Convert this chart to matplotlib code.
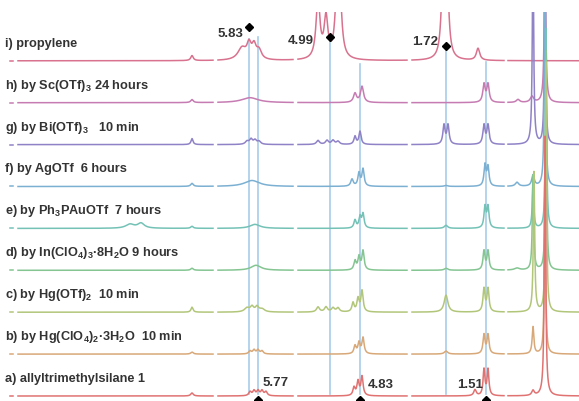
import numpy as np
import matplotlib
matplotlib.use("Agg")
import matplotlib.pyplot as plt

plt.rcParams['font.family'] = ['Liberation Sans', 'DejaVu Sans']
plt.rcParams['mathtext.fontset'] = 'custom'
plt.rcParams['mathtext.rm'] = 'Liberation Sans:bold'
plt.rcParams['mathtext.default'] = 'rm'

# spectrum labels, bottom (a) to top (i)
labels = [
    'a) allyltrimethylsilane 1',
    'b) by Hg(ClO$_4$)$_2$·3H$_2$O  10 min',
    'c) by Hg(OTf)$_2$  10 min',
    'd) by In(ClO$_4$)$_3$·8H$_2$O 9 hours',
    'e) by Ph$_3$PAuOTf  7 hours',
    'f) by AgOTf  6 hours',
    'g) by Bi(OTf)$_3$   10 min',
    'h) by Sc(OTf)$_3$ 24 hours',
    'i) propylene',
]

# peaks of each spectrum: (position, height, half width)
peaks_a = [(192, 3, 1.5), (250, 4, 1.5), (254, 5, 1.5), (258, 5, 1.5), (262, 5, 1.5),
           (266, 4, 1.5), (354, 8, 1.3), (358, 14, 1.3), (362, 19, 1.3),
           (475, 6, 1.5), (484, 26, 1.1), (488, 26, 1.1), (533, 5, 1.5), (545, 260, 0.8)]
peaks_b = [(192, 2, 1.5), (250, 3, 1.5), (254, 4, 1.5), (258, 4, 1.5), (262, 3, 1.5),
           (355, 8, 1.3), (359, 11, 1.3), (363, 16, 1.3), (446, 3, 2),
           (484, 19, 1.2), (488, 19, 1.2), (533, 27, 1.0), (545, 200, 0.7)]
peaks_c = [(192, 5, 1.2), (247, 4, 3), (252, 5, 2), (257, 5, 2), (262, 3, 3),
           (318, 5, 1.8), (326, 5, 1.8), (333, 4, 1.8), (338, 4, 1.8),
           (353, 9, 1.3), (358, 13, 1.3), (362, 21, 1.3), (446, 17, 2.2),
           (484, 23, 1.2), (488, 23, 1.2), (534, 140, 0.8), (546, 250, 0.7)]
peaks_d = [(192, 2, 1.5), (256, 5, 6), (355, 9, 1.3), (359, 13, 1.3), (363, 19, 1.3),
           (446, 2, 2), (484, 19, 1.2), (488, 19, 1.2), (517, 2, 3),
           (533, 95, 0.8), (546, 220, 0.7)]
peaks_e = [(130, 4, 5), (141, 5, 4), (192, 2, 1.5), (255, 4, 6),
           (355, 8, 1.3), (360, 11, 1.3), (363, 14, 1.3), (446, 3, 2),
           (485, 21, 1.2), (488, 21, 1.2), (533, 50, 0.8), (546, 200, 0.7)]
peaks_f = [(192, 3, 1.5), (252, 6, 9), (352, 7, 1.5), (359, 13, 1.3), (363, 17, 1.3),
           (446, 1, 2), (485, 21, 1.2), (488, 19, 1.2), (517, 4, 2),
           (533, 11, 1.5), (545, 250, 0.7)]
peaks_g = [(192, 6, 1.2), (247, 3, 2), (251, 5, 1.8), (255, 4, 1.8), (259, 3, 2),
           (318, 4, 1.8), (327, 4, 1.8), (333, 4, 1.8), (338, 3, 1.8),
           (355, 8, 1.3), (360, 13, 1.3), (444, 19, 1.3), (448, 19, 1.3),
           (484, 19, 1.3), (488, 19, 1.3), (533, 200, 0.8), (545, 200, 0.7)]
peaks_h = [(192, 3, 1.5), (250, 5, 10), (355, 9, 1.8), (362, 16, 1.8),
           (484, 18, 1.4), (488, 18, 1.4), (518, 3, 2), (532, 6, 2), (545, 150, 0.9)]
peaks_i = [(192, 5, 1.5), (242, 12, 5), (249, 14, 2.5), (254, 13, 2.5), (259, 9, 3),
           (318, 60, 2.3), (326, 40, 2.3), (337, 60, 2.3), (340, 50, 2.3),
           (443, 80, 2), (447, 80, 2), (478, 12, 2)]
all_peaks = [peaks_a, peaks_b, peaks_c, peaks_d, peaks_e, peaks_f, peaks_g, peaks_h, peaks_i]

colors = ['#e07272', '#d8a878', '#b2c67a', '#84c592', '#74c2b6',
          '#7cb0d2', '#8f82c6', '#c67cb2', '#d8728e']

# breaks in the spectra
segments = [(10, 13), (18, 213), (218, 293), (298, 407), (412, 504), (508, 579)]

# marked shifts: propylene (top) and allyltrimethylsilane (bottom)
top_shifts = ['5.83', '4.99', '1.72']
top_pos = [249, 330, 446]
bottom_shifts = ['5.77', '4.83', '1.51']
bottom_pos = [258, 360, 486]


def spectrum(x, peaks):
    y = np.zeros_like(x)
    for x0, h, w in peaks:
        y += h / (1 + ((x - x0) / w) ** 2)
    return y


fig = plt.figure(figsize=(5.79, 4.02), dpi=100)
ax = fig.add_axes([0, 0, 1, (402 - 13) / 402])
ax.set_xlim(0, 579)
ax.set_ylim(402, 13)
ax.axis('off')

base0 = 397
step = 41.9

# guide lines through the marked shifts
guide_x = [249, 258, 330, 360, 446, 486]
guide_top = [40, 38, 40, 65, 48, 63]
for gx, gt in zip(guide_x, guide_top):
    ax.plot([gx, gx], [gt, 395], color='#a8cde9', lw=1.2, zorder=1)

for k, (peaks, col, lab) in enumerate(zip(all_peaks, colors, labels)):
    base = base0 - k * step
    for a, b in segments:
        x = np.linspace(a, b, int((b - a) * 20) + 2)
        ax.plot(x, base - spectrum(x, peaks), color=col, lw=1.1, zorder=3 - k * 0.1)
    ax.text(5, base - 18, lab, fontsize=9.2, fontweight='bold', color='#333333',
            ha='left', va='center', zorder=5)

txt = dict(fontsize=9.5, fontweight='bold', color='#333333', zorder=6)
ax.text(230, 34, top_shifts[0], ha='center', va='center', **txt)
ax.text(301, 41, top_shifts[1], ha='center', va='center', **txt)
ax.text(425, 42, top_shifts[2], ha='center', va='center', **txt)
ax.plot(top_pos, [28, 38, 47], 'D', color='black', ms=4, zorder=7)

ax.text(276, 383, bottom_shifts[0], ha='center', va='center', **txt)
ax.text(381, 385, bottom_shifts[1], ha='center', va='center', **txt)
ax.text(470, 385, bottom_shifts[2], ha='center', va='center', **txt)
ax.plot(bottom_pos, [401, 401, 401], 'D', color='black', ms=4, zorder=7, clip_on=False)

fig.savefig('out.png', dpi=100)
